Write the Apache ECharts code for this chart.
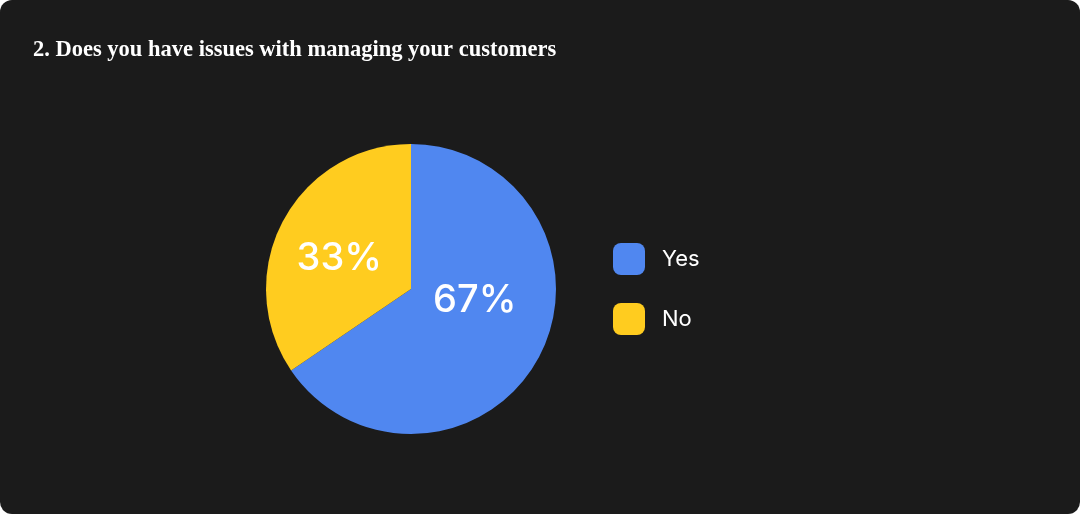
<!DOCTYPE html>
<html>
<head>
<meta charset="utf-8">
<script src="https://cdn.jsdelivr.net/npm/echarts@6/dist/echarts.min.js"></script>
<style>
html,body{margin:0;padding:0;background:#ffffff;}
#wrap{width:1080px;height:514px;background:#1b1b1b;border-radius:12px;overflow:hidden;}
#chart{width:1080px;height:514px;}
</style>
</head>
<body>
<div id="wrap"><div id="chart"></div></div>
<script>
const titleText = '2. Does you have issues with managing your customers';
const categories = ['Yes', 'No'];
const values = [65.5, 34.5];
const percentLabels = ['67%', '33%'];
const colors = ['#5087f0', '#ffcc1f'];

const chart = echarts.init(document.getElementById('chart'));
chart.setOption({
  backgroundColor: 'transparent',
  animation: false,
  title: {
    text: titleText,
    left: 28, top: 34,
    textStyle: {color: '#ffffff', fontFamily: 'Liberation Serif', fontWeight: 'bold', fontSize: 22.5}
  },
  legend: {
    orient: 'vertical', left: 608, top: 238,
    itemWidth: 32, itemHeight: 32, itemGap: 28,
    icon: 'roundRect',
    textStyle: {color: '#ffffff', fontFamily: 'Inter', fontSize: 22, padding: [0,0,0,12]},
    data: categories
  },
  series: [{
    type: 'pie',
    center: [411, 289], radius: 145,
    startAngle: 90, clockwise: true,
    color: colors,
    label: {
      show: true, position: 'inside',
      formatter: p => percentLabels[p.dataIndex],
      color: '#ffffff', fontFamily: 'Inter', fontSize: 38, fontWeight: 500
    },
    labelLayout: function (p) {
      return p.dataIndex === 0 ? {dx: -3, dy: -24} : {dx: -5, dy: 5};
    },
    labelLine: {show: false},
    emphasis: {disabled: true},
    itemStyle: {borderWidth: 0},
    data: categories.map((c, i) => ({name: c, value: values[i]}))
  }]
});
</script>
</body>
</html>
